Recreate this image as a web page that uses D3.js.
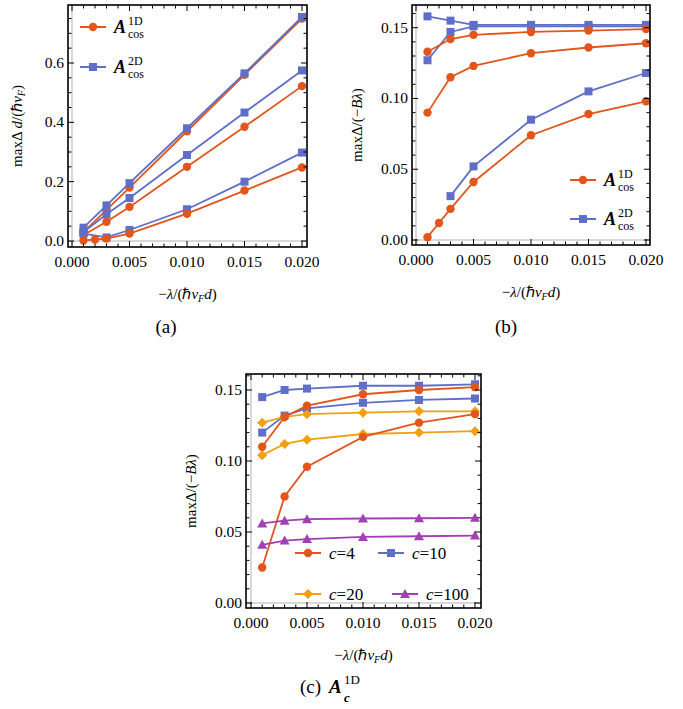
<!DOCTYPE html>
<html><head><meta charset="utf-8">
<script src="https://cdn.jsdelivr.net/npm/d3@7/dist/d3.min.js"></script>
<style>body{margin:0;background:#fff}</style>
</head><body><svg id="c" width="683" height="709"></svg>
<script>
const xTicks=[0,0.005,0.01,0.015,0.02];
const xFull=[0.001,0.003,0.005,0.01,0.015,0.02];
const xOrangeLow=[0.001,0.002,0.003,0.005,0.01,0.015,0.02];
const xBlueLowB=[0.003,0.005,0.01,0.015,0.02];
// panel a
const aOrange1=[0.03,0.105,0.18,0.37,0.56,0.75];
const aBlue1=[0.045,0.12,0.195,0.38,0.565,0.755];
const aBlue2=[0.03,0.09,0.145,0.29,0.433,0.575];
const aOrange2=[0.02,0.065,0.115,0.25,0.385,0.522];
const aBlue3=[0.025,0.012,0.037,0.107,0.2,0.298];
const aOrange3=[0.002,0.005,0.008,0.025,0.092,0.17,0.248];
// panel b
const bBlue1=[0.158,0.155,0.152,0.152,0.152,0.152];
const bBlue2=[0.127,0.147,0.151,0.151,0.151,0.151];
const bOrange1=[0.133,0.142,0.145,0.147,0.148,0.149];
const bOrange2=[0.090,0.115,0.123,0.132,0.136,0.139];
const bBlue3=[0.031,0.052,0.085,0.105,0.118];
const bOrange3=[0.002,0.012,0.022,0.041,0.074,0.089,0.098];
// panel c
const c10a=[0.145,0.150,0.151,0.153,0.153,0.154];
const c10b=[0.120,0.132,0.137,0.141,0.143,0.144];
const c4a=[0.110,0.131,0.139,0.147,0.150,0.152];
const c4b=[0.025,0.075,0.096,0.117,0.127,0.133];
const c20a=[0.127,0.131,0.133,0.134,0.135,0.135];
const c20b=[0.104,0.112,0.115,0.119,0.120,0.121];
const c100a=[0.056,0.058,0.059,0.0595,0.0597,0.060];
const c100b=[0.041,0.044,0.045,0.0465,0.047,0.0475];

const OR="#e2561c",BL="#5f6fc8",YE="#f0a010",PU="#a23fb4";
const FF="Liberation Serif";
const svg=d3.select("#c");
function T(g){return g.append("text").attr("font-family",FF);}

function marker(g,type,x,y,col){
  if(type==="circle") g.append("circle").attr("cx",x).attr("cy",y).attr("r",4.2).attr("fill",col);
  else if(type==="square") g.append("rect").attr("x",x-4).attr("y",y-4).attr("width",8).attr("height",8).attr("fill",col);
  else if(type==="diamond") g.append("path").attr("d",`M${x},${y-5}L${x+5},${y}L${x},${y+5}L${x-5},${y}Z`).attr("fill",col);
  else g.append("path").attr("d",`M${x},${y-5}L${x+5},${y+4}L${x-5},${y+4}Z`).attr("fill",col);
}

function panel(o){
  const x=d3.scaleLinear().domain([0,0.02]).range([o.x0,o.x1]);
  const y=d3.scaleLinear().domain([0,o.ymaxT]).range([o.y0,o.y1]);
  const L=o.L,R=o.R,Tp=o.T,B=o.B;
  const g=svg.append("g");
  g.append("line").attr("x1",x(0)).attr("x2",x(0)).attr("y1",Tp).attr("y2",B).attr("stroke","#ccc").attr("stroke-width",1.5);
  g.append("line").attr("x1",L).attr("x2",R).attr("y1",y(0)).attr("y2",y(0)).attr("stroke","#ccc").attr("stroke-width",1.5);
  const line=d3.line().x(d=>x(d[0])).y(d=>y(d[1]));
  o.series.forEach(s=>{
    const pts=s.xs.map((v,i)=>[v,s.ys[i]]);
    g.append("path").attr("d",line(pts)).attr("fill","none").attr("stroke",s.col).attr("stroke-width",1.8);
    pts.forEach(p=>marker(g,s.m,x(p[0]),y(p[1]),s.col));
  });
  g.append("rect").attr("x",L).attr("y",Tp).attr("width",R-L).attr("height",B-Tp).attr("fill","none").attr("stroke","#000").attr("stroke-width",1.6);
  d3.range(0,0.0201,0.001).forEach((v,i)=>{const maj=i%5===0,len=maj?6:3.5;
    g.append("line").attr("x1",x(v)).attr("x2",x(v)).attr("y1",B).attr("y2",B-len).attr("stroke","#000");
    g.append("line").attr("x1",x(v)).attr("x2",x(v)).attr("y1",Tp).attr("y2",Tp+len).attr("stroke","#000");});
  o.yMinor.forEach(v=>{const maj=o.yMajor.some(m=>Math.abs(m-v)<1e-9),len=maj?6:3.5;
    g.append("line").attr("x1",L).attr("x2",L+len).attr("y1",y(v)).attr("y2",y(v)).attr("stroke","#000");
    g.append("line").attr("x1",R).attr("x2",R-len).attr("y1",y(v)).attr("y2",y(v)).attr("stroke","#000");});
  xTicks.forEach(v=>T(g).attr("x",x(v)).attr("y",B+20).attr("text-anchor","middle").attr("font-size",15.5).text(v.toFixed(3)));
  o.yMajor.forEach(v=>T(g).attr("x",L-4).attr("y",y(v)+5).attr("text-anchor","end").attr("font-size",15.5).text(v.toFixed(o.yDec)));
  const xl=T(g).attr("x",(L+R)/2).attr("y",B+52).attr("text-anchor","middle").attr("font-size",15);
  xl.append("tspan").text("−");xl.append("tspan").attr("font-style","italic").text("λ");
  xl.append("tspan").text("/(ℏ");xl.append("tspan").attr("font-style","italic").text("v");
  xl.append("tspan").attr("font-style","italic").attr("font-size",10).attr("dy",3).text("F");
  xl.append("tspan").attr("font-style","italic").attr("dy",-3).text("d");xl.append("tspan").text(")");
  const yl=T(g).attr("transform",`translate(${o.ylx},${(Tp+B)/2}) rotate(-90)`).attr("text-anchor","middle").attr("font-size",15);
  o.ylab(yl);
  return {x,y};
}
function legend(items){
  items.forEach(it=>{
    svg.append("line").attr("x1",it.x).attr("x2",it.x+26).attr("y1",it.y).attr("y2",it.y).attr("stroke",it.col).attr("stroke-width",2);
    marker(svg,it.m,it.x+13,it.y,it.col);
    it.txt(it.x+34,it.y+6);
  });
}
function Acos(sup){return (x,y)=>{
  T(svg).attr("x",x).attr("y",y).attr("font-size",18).attr("font-style","italic").attr("font-weight","bold").text("A");
  T(svg).attr("x",x+14).attr("y",y-8).attr("font-size",12).text(sup);
  T(svg).attr("x",x+14).attr("y",y+5).attr("font-size",12).text("cos");};}
function cEq(n){return (x,y)=>{const t=T(svg).attr("x",x).attr("y",y).attr("font-size",17);
  t.append("tspan").attr("font-style","italic").text("c");t.append("tspan").text("="+n);};}

panel({x0:72,x1:302,y0:241,y1:63,ymaxT:0.6,L:68,R:307,T:5,B:247,ylx:22,
  yMajor:[0,0.2,0.4,0.6],yMinor:d3.range(0,0.8,0.05),yDec:1,
  ylab:t=>{t.append("tspan").text("maxΔ ");t.append("tspan").attr("font-style","italic").text("d");t.append("tspan").text("/(ℏ");
    t.append("tspan").attr("font-style","italic").text("v");t.append("tspan").attr("font-style","italic").attr("font-size",10).attr("dy",3).text("F");t.append("tspan").attr("dy",-3).text(")");},
  series:[{xs:xFull,ys:aOrange1,col:OR,m:"circle"},{xs:xFull,ys:aBlue1,col:BL,m:"square"},
    {xs:xFull,ys:aBlue2,col:BL,m:"square"},{xs:xFull,ys:aOrange2,col:OR,m:"circle"},
    {xs:xFull,ys:aBlue3,col:BL,m:"square"},{xs:xOrangeLow,ys:aOrange3,col:OR,m:"circle"}]});
legend([{x:80,y:27,col:OR,m:"circle",txt:Acos("1D")},{x:80,y:67,col:BL,m:"square",txt:Acos("2D")}]);

const bl=t=>{t.append("tspan").text("maxΔ/(−");t.append("tspan").attr("font-style","italic").text("Bλ");t.append("tspan").text(")");};
panel({x0:416,x1:646,y0:240,y1:27.7,ymaxT:0.15,L:412,R:650,T:5,B:245,ylx:362,
  yMajor:[0,0.05,0.1,0.15],yMinor:d3.range(0,0.161,0.01),yDec:2,ylab:bl,
  series:[{xs:xFull,ys:bBlue1,col:BL,m:"square"},{xs:xFull,ys:bBlue2,col:BL,m:"square"},
    {xs:xFull,ys:bOrange1,col:OR,m:"circle"},{xs:xFull,ys:bOrange2,col:OR,m:"circle"},
    {xs:xBlueLowB,ys:bBlue3,col:BL,m:"square"},{xs:xOrangeLow,ys:bOrange3,col:OR,m:"circle"}]});
legend([{x:570,y:180,col:OR,m:"circle",txt:Acos("1D")},{x:570,y:219,col:BL,m:"square",txt:Acos("2D")}]);

panel({x0:251,x1:475,y0:603,y1:390,ymaxT:0.15,L:246,R:481,T:374,B:608,ylx:196,
  yMajor:[0,0.05,0.1,0.15],yMinor:d3.range(0,0.161,0.01),yDec:2,ylab:bl,
  series:[{xs:xFull,ys:c10a,col:BL,m:"square"},{xs:xFull,ys:c10b,col:BL,m:"square"},
    {xs:xFull,ys:c20a,col:YE,m:"diamond"},{xs:xFull,ys:c20b,col:YE,m:"diamond"},
    {xs:xFull,ys:c4a,col:OR,m:"circle"},{xs:xFull,ys:c4b,col:OR,m:"circle"},
    {xs:xFull,ys:c100a,col:PU,m:"triangle"},{xs:xFull,ys:c100b,col:PU,m:"triangle"}]});
legend([{x:295,y:553,col:OR,m:"circle",txt:cEq(4)},{x:378,y:553,col:BL,m:"square",txt:cEq(10)},
  {x:295,y:594,col:YE,m:"diamond",txt:cEq(20)},{x:392,y:594,col:PU,m:"triangle",txt:cEq(100)}]);

T(svg).attr("x",166).attr("y",333).attr("text-anchor","middle").attr("font-size",19).text("(a)");
T(svg).attr("x",506).attr("y",333).attr("text-anchor","middle").attr("font-size",19).text("(b)");
T(svg).attr("x",300).attr("y",693).attr("font-size",19).text("(c)");
T(svg).attr("x",329).attr("y",693).attr("font-size",19).attr("font-style","italic").attr("font-weight","bold").text("A");
T(svg).attr("x",344).attr("y",684).attr("font-size",13).text("1D");
T(svg).attr("x",344).attr("y",702).attr("font-size",13).attr("font-style","italic").attr("font-weight","bold").text("c");
</script></body></html>
